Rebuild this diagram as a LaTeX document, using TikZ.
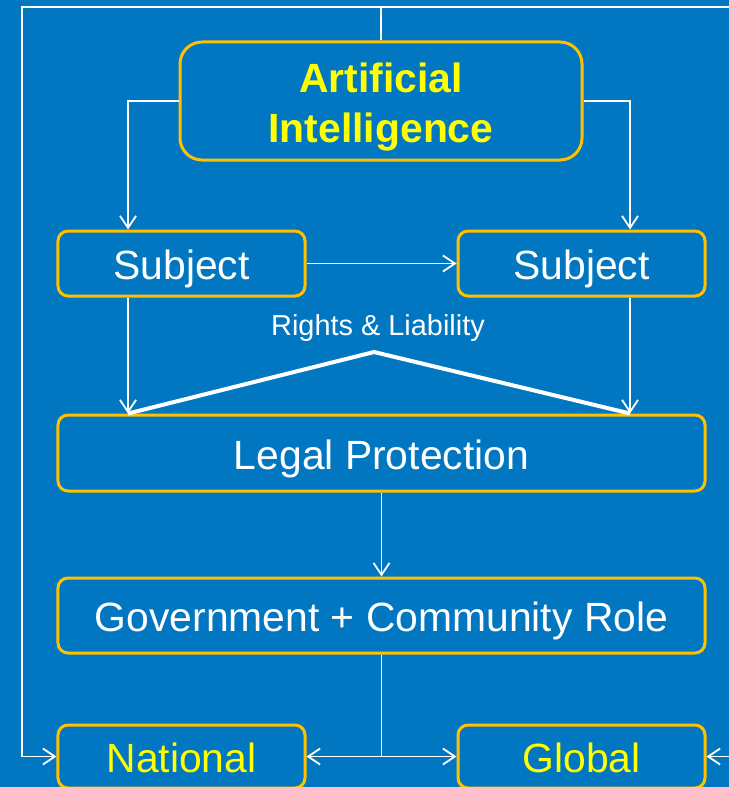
\documentclass[tikz,border=0pt]{standalone}
\usepackage{fontspec}
\setmainfont{Liberation Sans}
\usetikzlibrary{arrows.meta}

\definecolor{slideblue}{RGB}{0,119,192}
\definecolor{boxgold}{RGB}{255,192,0}
\definecolor{labelyellow}{RGB}{255,255,0}

\tikzset{
  box/.style={draw=boxgold, line width=3bp, rounded corners=10bp, text=white,
    inner sep=0pt, font=\fontsize{41}{50}\selectfont, align=center,
    text height=37bp, text depth=5bp},
  link/.style={draw=white, line width=1.8bp, -{Straight Barb[length=12bp,width=16bp]}},
}

\begin{document}
\begin{tikzpicture}[x=1bp,y=-1bp]
  \fill[slideblue] (0,0) rectangle (729,787);
  \useasboundingbox (0,0) rectangle (729,787);

  % boxes
  \node[box, rounded corners=22bp, text=labelyellow, font=\fontsize{41}{50}\selectfont\bfseries,
    text height=, text depth=, minimum width=402bp, minimum height=118bp]
    (ai) at (381,101) {\rule{0pt}{42bp}Artificial\\Intelligence};
  \node[box, minimum width=247bp, minimum height=65bp] (subjL) at (181.5,263.5) {Subject};
  \node[box, minimum width=247bp, minimum height=65bp] (subjR) at (581.5,263.5) {Subject};
  \node[box, minimum width=647bp, minimum height=76bp] (legal) at (381.5,453) {Legal Protection};
  \node[box, minimum width=647bp, minimum height=75bp] (gov) at (381.5,615.5) {Government + Community Role};
  \node[box, text=labelyellow, minimum width=247bp, minimum height=63bp] (national) at (181.5,756.5) {National};
  \node[box, text=labelyellow, minimum width=247bp, minimum height=63bp] (global) at (581.5,756.5) {Global};

  % helper points
  \coordinate (colL) at (128,0);
  \coordinate (colR) at (630,0);
  \coordinate (apex) at (374,352);
  \coordinate (topL) at (22,7);
  \coordinate (topR) at (745,7);

  \node[text=white, font=\fontsize{29}{34}\selectfont] (rights) at (378,328) {Rights \& Liability};

  % connectors
  \draw[link] (ai.west) -| (colL |- subjL.north);
  \draw[link] (ai.east) -| (colR |- subjR.north);
  \draw[link] (subjL.east) -- (subjR.west);
  \draw[link] (colL |- subjL.south) -- (colL |- legal.north);
  \draw[link] (colR |- subjR.south) -- (colR |- legal.north);
  \draw[white, line width=4bp, line join=round] (colL |- legal.north) -- (apex) -- (colR |- legal.north);
  \draw[link] (legal.south) -- (gov.north);
  \draw[link] (gov.south) |- (national.east);
  \draw[link] (gov.south) |- (global.west);
  \draw[link] (ai.north) |- (topL) |- (national.west);
  \draw[link] (ai.north) |- (topR) |- (global.east);
\end{tikzpicture}
\end{document}
